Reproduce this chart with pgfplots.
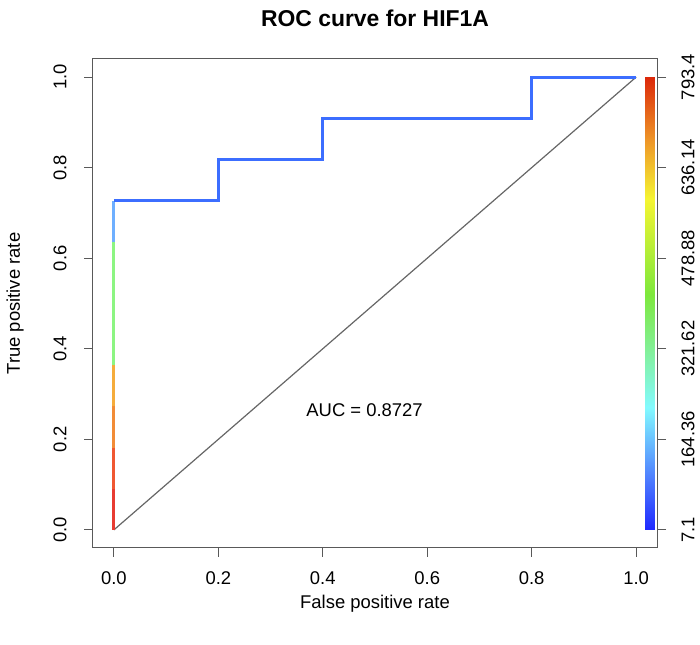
\documentclass[border=0pt]{standalone}
\usepackage{fontspec}
\setmainfont{Liberation Sans}
\usepackage{pgfplots}
\pgfplotsset{compat=1.18}

% ROC colour scale (low cutoff -> blue, high cutoff -> red)
\pgfplotsset{
  colormap={rocr}{rgb255(0cm)=(30,40,255) rgb255(12cm)=(80,130,255)
    rgb255(27cm)=(130,250,255) rgb255(40cm)=(130,240,150)
    rgb255(52cm)=(125,232,60) rgb255(73cm)=(245,245,50)
    rgb255(86cm)=(238,150,40) rgb255(100cm)=(220,40,10)},
  rocbase/.style={scale only axis, width=564bp, height=489bp,
    at={(0,0)}, anchor=south west,
    xmin=-0.04, xmax=1.04, ymin=-0.04, ymax=1.04,
    axis line style={black!65, line width=1bp},
    tick style={black!65, line width=1bp},
    tick align=outside, major tick length=9bp,
    ytick={0,0.2,0.4,0.6,0.8,1},
    tick label style={font=\fontsize{18.5}{18.5}\selectfont},
    /pgf/number format/assume math mode=true},
}

\begin{document}
\begin{tikzpicture}[x=1bp,y=1bp]
\begin{axis}[rocbase, colormap name=rocr,
  xtick={0,0.2,0.4,0.6,0.8,1},
  xticklabels={0.0,0.2,0.4,0.6,0.8,1.0},
  yticklabels={0.0,0.2,0.4,0.6,0.8,1.0},
  xtick pos=lower, ytick pos=left,
  xticklabel style={anchor=center, yshift=-21bp},
  yticklabel style={rotate=90, anchor=center, yshift=24bp},
  title={ROC curve for HIF1A},
  title style={at={(0.5,1)}, anchor=center, yshift=35bp,
    font=\fontsize{23}{23}\selectfont\bfseries},
  xlabel={False positive rate},
  xlabel style={at={(0.5,0)}, anchor=center, yshift=-56bp,
    font=\fontsize{18.5}{18.5}\selectfont},
  ylabel={True positive rate},
  ylabel style={at={(0,0.5)}, anchor=center, yshift=78bp,
    font=\fontsize{18.5}{18.5}\selectfont},
]
% chance diagonal
\addplot[black!60, line width=1.2bp] coordinates {(0,0) (1,1)};
% colour key
\addplot[surf, shader=interp, mesh/rows=2, point meta=\thisrow{c}] table {
x y c
1.017 0 0
1.036 0 0

1.017 1 1
1.036 1 1
};
% ROC curve, coloured by cutoff
\addplot[color={rgb,255:red,232;green,60;blue,50}, line width=3bp] coordinates {(0,0) (0,0.0909)};
\addplot[color={rgb,255:red,240;green,88;blue,50}, line width=3bp] coordinates {(0,0.0909) (0,0.1818)};
\addplot[color={rgb,255:red,242;green,140;blue,55}, line width=3bp] coordinates {(0,0.1818) (0,0.2727)};
\addplot[color={rgb,255:red,245;green,172;blue,60}, line width=3bp] coordinates {(0,0.2727) (0,0.3636)};
\addplot[color={rgb,255:red,140;green,245;blue,130}, line width=3bp] coordinates {(0,0.3636) (0,0.6364)};
\addplot[color={rgb,255:red,110;green,175;blue,255}, line width=3bp] coordinates {(0,0.6364) (0,0.7273)};
\addplot[color={rgb,255:red,60;green,110;blue,255}, line width=3bp, line join=miter] coordinates {
  (0,0.7273) (0.2,0.7273) (0.2,0.8182) (0.4,0.8182) (0.4,0.9091)
  (0.8,0.9091) (0.8,1) (1,1)};
\node[font=\fontsize{18.5}{18.5}\selectfont] at (axis cs:0.48,0.265) {AUC = 0.8727};
\end{axis}
\begin{axis}[rocbase, axis x line=none, axis y line*=right,
  yticklabels={7.1,164.36,321.62,478.88,636.14,793.4},
  yticklabel style={rotate=90, anchor=center, yshift=-22bp}]
\addplot[draw=none] coordinates {(0,0)};
\end{axis}
\pgfresetboundingbox
\path (-93,-97) rectangle (607,548);
\end{tikzpicture}
\end{document}
